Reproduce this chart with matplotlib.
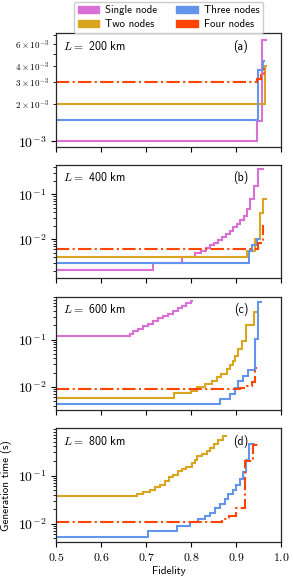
import numpy as np
import matplotlib
matplotlib.use("Agg")
import matplotlib.pyplot as plt
from matplotlib.patches import Patch
from matplotlib.ticker import FuncFormatter, LogLocator

plt.rcParams["mathtext.fontset"] = "cm"
plt.rcParams["font.family"] = ["cmss10", "DejaVu Sans"]
plt.rcParams["axes.formatter.use_mathtext"] = True

names = ["Single node", "Two nodes", "Three nodes", "Four nodes"]
colors = ["orchid", "goldenrod", "cornflowerblue", "orangered"]
styles = ["-", "-", "-", "-."]
distances = [200, 400, 600, 800]
panel_tags = ["(a)", "(b)", "(c)", "(d)"]

# each curve: step levels (generation time, s) and fidelity edges
# L = 200 km
a_single_t = [1e-3, 1.46e-3, 6.4e-3]
a_single_f = [0.5, 0.947, 0.958, 0.968]
a_two_t = [2e-3, 3.98e-3]
a_two_f = [0.5, 0.964, 0.969]
a_three_t = [1.48e-3, 3.7e-3, 4.4e-3]
a_three_f = [0.5, 0.948, 0.961, 0.964]
a_four_t = [3e-3, 3.12e-3, 3.36e-3, 3.8e-3]
a_four_f = [0.5, 0.946, 0.955, 0.962, 0.965]

# L = 400 km
b_single_t = [2.1e-3, 3.05e-3, 4.0e-3, 4.9e-3, 5.6e-3, 6.4e-3, 7.3e-3, 8.4e-3, 9.6e-3,
              1.1e-2, 1.3e-2, 1.55e-2, 1.85e-2, 2.2e-2, 2.7e-2, 3.3e-2, 4.6e-2, 8e-2,
              0.15, 0.37]
b_single_f = [0.5, 0.716, 0.779, 0.808, 0.822, 0.833, 0.842, 0.851, 0.86, 0.869, 0.878,
              0.886, 0.894, 0.902, 0.91, 0.918, 0.925, 0.932, 0.941, 0.95, 0.962]
b_two_t = [4.15e-3, 5.6e-3, 1.0e-2, 3.9e-2, 7.8e-2]
b_two_f = [0.5, 0.924, 0.942, 0.953, 0.96, 0.968]
b_three_t = [3.06e-3, 5.5e-3, 7.5e-3, 1.0e-2]
b_three_f = [0.5, 0.928, 0.935, 0.947, 0.953]
b_four_t = [6e-3, 8.5e-3, 2.0e-2]
b_four_f = [0.5, 0.948, 0.96, 0.963]

# L = 600 km
c_single_t = [0.118, 0.132, 0.148, 0.169, 0.189, 0.216, 0.246, 0.28, 0.315, 0.352,
              0.402, 0.457, 0.521, 0.594, 0.64]
c_single_f = [0.5, 0.664, 0.672, 0.683, 0.694, 0.705, 0.716, 0.727, 0.738, 0.75, 0.761,
              0.772, 0.781, 0.79, 0.799, 0.805]
c_two_t = [5.75e-3, 7.4e-3, 8.2e-3, 9.7e-3, 1.14e-2, 1.3e-2, 1.58e-2, 1.86e-2, 2.38e-2,
           2.94e-2, 3.57e-2, 4.57e-2, 6.3e-2, 9.5e-2, 0.2, 0.38]
c_two_f = [0.5, 0.762, 0.80, 0.813, 0.831, 0.846, 0.857, 0.866, 0.879, 0.887, 0.893,
           0.898, 0.905, 0.913, 0.922, 0.94, 0.951]
c_three_t = [4.3e-3, 5.5e-3, 7.2e-3, 9.5e-3, 1.34e-2, 1.71e-2, 2.27e-2, 0.103, 0.62]
c_three_f = [0.5, 0.864, 0.887, 0.898, 0.905, 0.916, 0.927, 0.942, 0.95, 0.957]
c_four_t = [8.8e-3, 9.2e-3, 1.05e-2, 1.25e-2, 2.5e-2]
c_four_f = [0.5, 0.909, 0.925, 0.935, 0.942, 0.946]

# L = 800 km (no single-node curve)
d_two_t = [3.75e-2, 4.14e-2, 4.57e-2, 5.1e-2, 5.7e-2, 6.5e-2, 7.7e-2, 9.1e-2, 0.101,
           0.122, 0.136, 0.153, 0.183, 0.205, 0.25, 0.284, 0.324, 0.38, 0.45, 0.547, 0.666]
d_two_f = [0.5, 0.679, 0.694, 0.709, 0.72, 0.731, 0.742, 0.752, 0.761, 0.772, 0.781,
           0.79, 0.802, 0.809, 0.814, 0.824, 0.835, 0.842, 0.851, 0.861, 0.872, 0.881]
d_three_t = [5.3e-3, 7.2e-3, 9.2e-3, 1.1e-2, 1.28e-2, 1.46e-2, 1.71e-2, 2.08e-2, 2.54e-2,
             3.29e-2, 4.14e-2, 5.1e-2, 6.5e-2, 8.3e-2, 0.116, 0.205, 0.46]
d_three_f = [0.5, 0.704, 0.768, 0.798, 0.816, 0.831, 0.842, 0.853, 0.864, 0.876, 0.883,
             0.894, 0.901, 0.909, 0.916, 0.922, 0.930, 0.942]
d_four_t = [1.1e-2, 1.24e-2, 1.46e-2, 2.1e-2, 0.2, 0.42]
d_four_f = [0.5, 0.868, 0.885, 0.9, 0.92, 0.937, 0.95]

panels = [
    [(a_single_f, a_single_t), (a_two_f, a_two_t), (a_three_f, a_three_t), (a_four_f, a_four_t)],
    [(b_single_f, b_single_t), (b_two_f, b_two_t), (b_three_f, b_three_t), (b_four_f, b_four_t)],
    [(c_single_f, c_single_t), (c_two_f, c_two_t), (c_three_f, c_three_t), (c_four_f, c_four_t)],
    [None, (d_two_f, d_two_t), (d_three_f, d_three_t), (d_four_f, d_four_t)],
]
ylims = [(0.91e-3, 7.3e-3), (1.36e-3, 0.45), (3.2e-3, 0.81), (4.2e-3, 0.95)]
xticks = [0.5, 0.6, 0.7, 0.8, 0.9, 1.0]


def log_label(subs):
    def fmt(v, pos):
        e = int(np.floor(np.log10(v) + 1e-9))
        m = int(round(v / 10.0 ** e))
        if m not in subs:
            return ""
        if m == 1:
            return r"$10^{%d}$" % e
        return r"$%d\times10^{%d}$" % (m, e)
    return fmt


fig, axes = plt.subplots(4, 1, sharex=True, figsize=(2.93, 5.79), dpi=100)
fig.subplots_adjust(left=0.191, right=0.959, top=0.943, bottom=0.064, hspace=0.16)

for i, ax in enumerate(axes):
    for j, curve in enumerate(panels[i]):
        if curve is None:
            continue
        f, t = curve
        ax.stairs(t, f, baseline=None, color=colors[j], linestyle=styles[j], lw=1.5)
    ax.set_yscale("log")
    ax.set_ylim(*ylims[i])
    ax.set_xlim(0.5, 1.0)
    ax.yaxis.set_major_locator(LogLocator(base=10))
    ax.yaxis.set_minor_locator(LogLocator(base=10, subs=np.arange(2, 10)))
    ax.yaxis.set_major_formatter(FuncFormatter(log_label({1})))
    if i == 0:
        ax.yaxis.set_minor_formatter(FuncFormatter(log_label({2, 3, 4, 6})))
        ax.tick_params(axis="y", which="minor", labelsize=6.5)
    else:
        ax.yaxis.set_minor_formatter(FuncFormatter(lambda v, p: ""))
    ax.tick_params(axis="y", which="major", labelsize=10, length=3.5, width=0.8)
    ax.tick_params(axis="y", which="minor", length=2, width=0.6)
    ax.tick_params(axis="x", which="major", labelsize=8.5, length=3.5, width=0.8)
    for s in ax.spines.values():
        s.set_linewidth(0.9)
        s.set_color("0.15")
    ax.text(0.03, 0.885, r"$L=$ %d km" % distances[i], transform=ax.transAxes,
            ha="left", va="center", fontsize=8.5)
    ax.text(0.855, 0.885, panel_tags[i], transform=ax.transAxes,
            ha="right", va="center", fontsize=8.5)

axes[-1].set_xticks(xticks)
axes[-1].xaxis.set_major_formatter(FuncFormatter(lambda v, p: r"$%.1f$" % v))
axes[-1].set_xlabel("Fidelity", fontsize=8, labelpad=2)
axes[-1].set_ylabel("Generation time (s)", fontsize=8)

handles = [Patch(facecolor=c, edgecolor=c) for c in colors]
axes[0].legend(handles, names, ncol=2, loc="lower center", bbox_to_anchor=(0.5, 1.0),
               borderaxespad=0.0, fontsize=7.8, handletextpad=0.5, columnspacing=1.8,
               labelspacing=0.35, borderpad=0.35, framealpha=1.0)

fig.savefig("out.png", dpi=100)
